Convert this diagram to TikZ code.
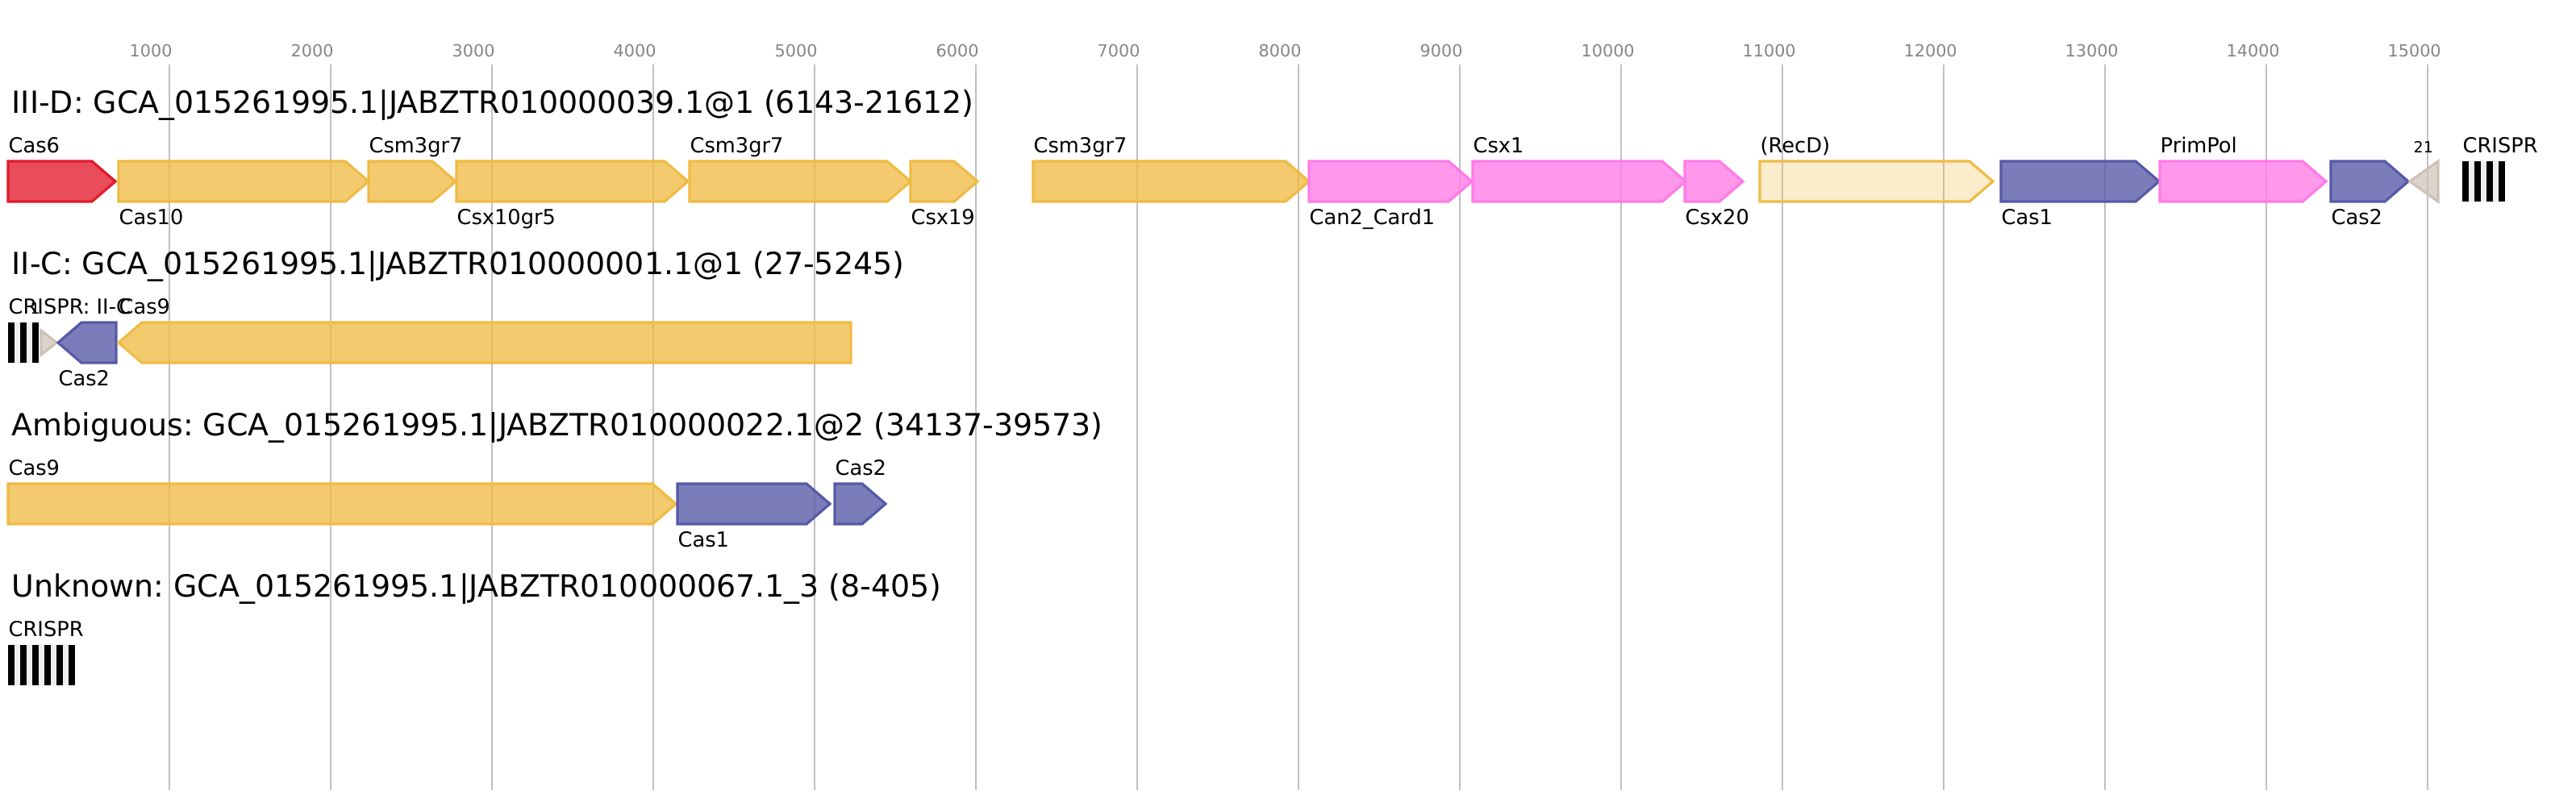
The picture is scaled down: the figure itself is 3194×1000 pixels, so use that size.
\documentclass[tikz,border=0pt]{standalone}
\usepackage{fontspec}
\setmainfont{DejaVu Sans}
\usepackage{xcolor}
\usepackage{tikz}
\frenchspacing
\definecolor{casred}{HTML}{E31A2C}
\definecolor{casorange}{HTML}{EFBB45}
\definecolor{caspink}{HTML}{FF7BE6}
\definecolor{casblue}{HTML}{5659A6}
\definecolor{castaupe}{HTML}{CDC1B5}
\definecolor{spacergrey}{HTML}{EEEEEE}
\definecolor{gridgrey}{HTML}{C0C0C0}
\definecolor{ticktext}{HTML}{858585}
\tikzset{
    gene/.style = {line width=0.32mm, fill opacity=0.78},
    gene_red/.style = {gene, draw=casred, fill=casred},
    gene_orange/.style = {gene, draw=casorange, fill=casorange},
    gene_pink/.style = {gene, draw=caspink, fill=caspink},
    gene_blue/.style = {gene, draw=casblue, fill=casblue},
    gene_faint/.style = {gene, draw=casorange, fill=casorange, fill opacity=0.28},
    gene_grey/.style = {gene, draw=castaupe, fill=castaupe, fill opacity=0.7},
    grid_line/.style = {gridgrey, line width=0.2mm},
    tick_label/.style = {inner sep=0pt, anchor=base west, text=ticktext,
        font=\fontsize{5.9}{7}\selectfont},
    row_title/.style = {inner sep=0pt, anchor=base west, font=\fontsize{10.78}{12}\selectfont},
    gene_label/.style = {inner sep=0pt, anchor=base west, font=\fontsize{7.3}{9}\selectfont},
    count_label/.style = {inner sep=0pt, anchor=base west, font=\fontsize{5.4}{6}\selectfont},
}
% gene arrows: from, to, centre y, style
\newcommand{\generight}[4]{%
    \draw[#4] (#1,#3-25) -- (#2-29,#3-25) -- (#2,#3) -- (#2-29,#3+25) -- (#1,#3+25) -- cycle;}
\newcommand{\geneleft}[4]{%
    \draw[#4] (#1,#3) -- (#1+29,#3-25) -- (#2,#3-25) -- (#2,#3+25) -- (#1+29,#3+25) -- cycle;}
\newcommand{\crisprarray}[3]{%
    \fill[spacergrey] (#1,#2-25) rectangle ({#1+15*#3-7.5},#2+25);
    \foreach \r in {1,...,#3}
        \fill[black] ({#1+15*(\r-1)},#2-25) rectangle ({#1+15*(\r-1)+7.5},#2+25);}

\begin{document}
\begin{tikzpicture}[x=0.1mm, y=-0.1mm]
            \useasboundingbox (0,0) rectangle (3194,1000);
            \foreach \t in {1,...,15} {
                \draw[grid_line] (10+200*\t,80) -- (10+200*\t,980);
                \node[tick_label] (tk\t) at (10+200*\t-50,70) {\t000};
            }
            % III-D
            \node[row_title] (t1) at (14,140) {III-D: GCA\_015261995.1|JABZTR010000039.1@1 (6143-21612)};
            \generight{10}{143}{225}{gene_red}
            \generight{147}{457}{225}{gene_orange}
            \generight{457}{565}{225}{gene_orange}
            \generight{566}{853}{225}{gene_orange}
            \generight{855}{1129}{225}{gene_orange}
            \generight{1129}{1212}{225}{gene_orange}
            \generight{1281}{1623}{225}{gene_orange}
            \generight{1623}{1825}{225}{gene_pink}
            \generight{1826}{2090}{225}{gene_pink}
            \generight{2089}{2161}{225}{gene_pink}
            \generight{2182}{2471}{225}{gene_faint}
            \generight{2481}{2677}{225}{gene_blue}
            \generight{2678}{2884}{225}{gene_pink}
            \generight{2890}{2986}{225}{gene_blue}
            \draw[gene_grey] (2988,225) -- (3023,200) -- (3023,250) -- cycle;
            \crisprarray{3053}{225}{4}
            \node[gene_label] (a1) at (10,189) {Cas6};
            \node[gene_label] (b1) at (147,278) {Cas10};
            \node[gene_label] (a2) at (457,189) {Csm3gr7};
            \node[gene_label] (b2) at (566,278) {Csx10gr5};
            \node[gene_label] (a3) at (855,189) {Csm3gr7};
            \node[gene_label] (b3) at (1129,278) {Csx19};
            \node[gene_label] (a4) at (1281,189) {Csm3gr7};
            \node[gene_label] (b4) at (1623,278) {Can2\_Card1};
            \node[gene_label] (a5) at (1826,189) {Csx1};
            \node[gene_label] (b5) at (2089,278) {Csx20};
            \node[gene_label] (a6) at (2182,189) {(RecD)};
            \node[gene_label] (b6) at (2481,278) {Cas1};
            \node[gene_label] (a7) at (2678,189) {PrimPol};
            \node[gene_label] (b7) at (2890,278) {Cas2};
            \node[count_label] (n1) at (2992,189) {21};
            \node[gene_label] (c1) at (3053,189) {CRISPR};
            % II-C
            \node[row_title] (t2) at (14,340) {II-C: GCA\_015261995.1|JABZTR010000001.1@1 (27-5245)};
            \crisprarray{10}{425}{3}
            \draw[gene_grey] (70,425) -- (51,410) -- (51,440) -- cycle;
            \geneleft{72}{144}{425}{gene_blue}
            \geneleft{147}{1055}{425}{gene_orange}
            \node[gene_label] (c2) at (10,389) {CRISPR: II-C};
            \node[count_label] (n2) at (37,389) {1};
            \node[gene_label] (a8) at (147,389) {Cas9};
            \node[gene_label] (b8) at (72,478) {Cas2};
            % Ambiguous
            \node[row_title] (t3) at (14,540) {Ambiguous: GCA\_015261995.1|JABZTR010000022.1@2 (34137-39573)};
            \generight{10}{838}{625}{gene_orange}
            \generight{840}{1029}{625}{gene_blue}
            \generight{1035}{1098}{625}{gene_blue}
            \node[gene_label] (a9) at (10,589) {Cas9};
            \node[gene_label] (b9) at (840,678) {Cas1};
            \node[gene_label] (a10) at (1035,589) {Cas2};
            % Unknown
            \node[row_title] (t4) at (14,740) {Unknown: GCA\_015261995.1|JABZTR010000067.1\_3 (8-405)};
            \crisprarray{10}{825}{6}
            \node[gene_label] (c3) at (10,789) {CRISPR};
\end{tikzpicture}
\end{document}
